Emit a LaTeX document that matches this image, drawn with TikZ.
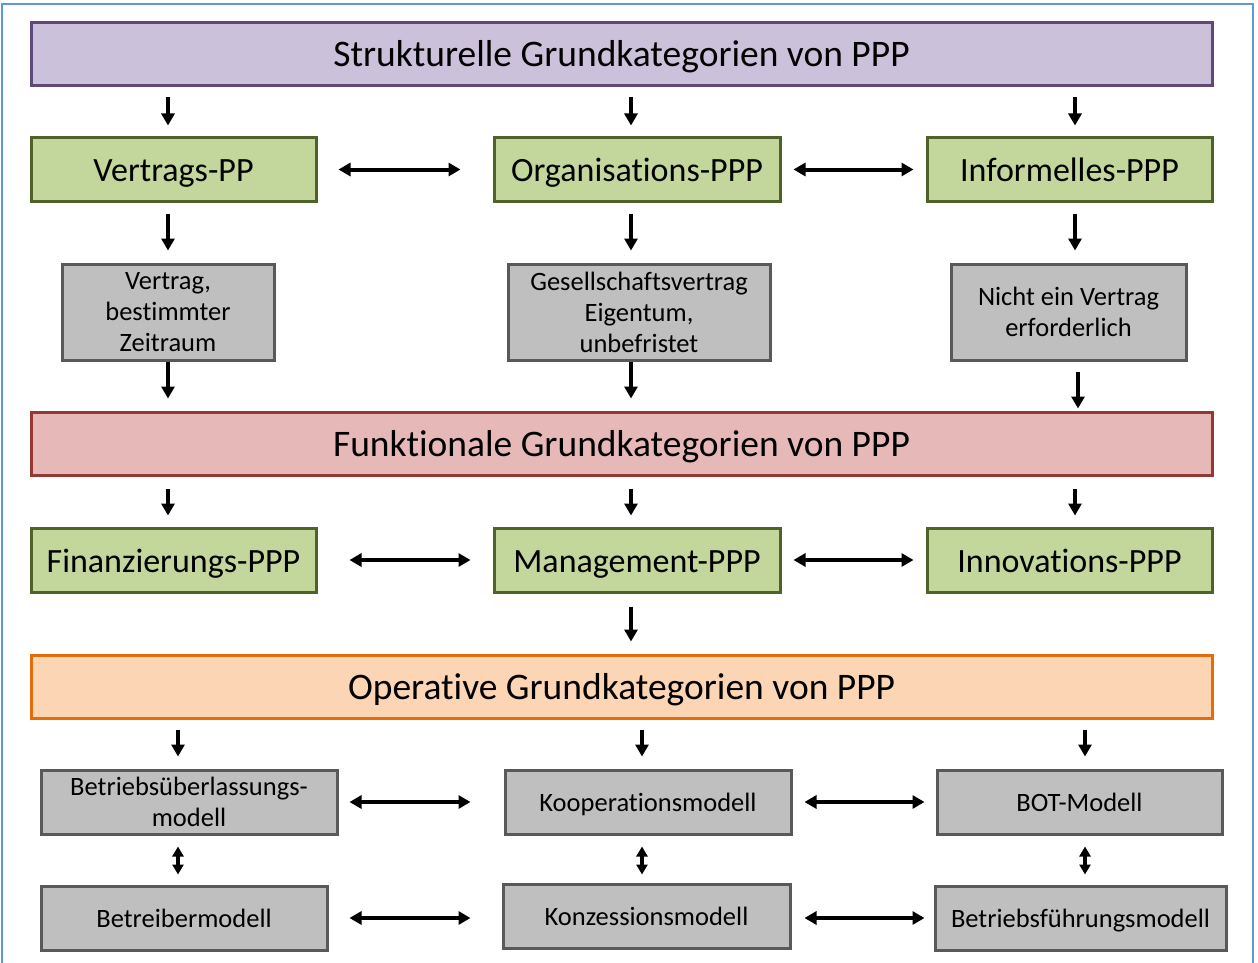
\documentclass[tikz,border=0pt]{standalone}
\usepackage{fontspec}
\setmainfont{Carlito}[Ligatures={NoCommon}]
\usetikzlibrary{arrows.meta}
\definecolor{purpF}{HTML}{CCC1DA}
\definecolor{purpD}{HTML}{5F497A}
\definecolor{grnF}{HTML}{C3D69B}
\definecolor{grnD}{HTML}{4F6228}
\definecolor{gryF}{HTML}{BFBFBF}
\definecolor{gryD}{HTML}{595959}
\definecolor{redF}{HTML}{E6B9B8}
\definecolor{redD}{HTML}{953735}
\definecolor{orF}{HTML}{FCD5B5}
\definecolor{orD}{HTML}{E46C0A}
\definecolor{frameB}{HTML}{5B9BD5}
\tikzset{
  box/.style={draw, line width=3pt, inner sep=0pt, align=center, anchor=center},
  titlebox/.style={box, text height=30pt, text depth=4pt, minimum width=1181pt, minimum height=63pt, font=\fontsize{37.5}{44}\selectfont},
  greenbox/.style={box, text height=28.5pt, text depth=4pt, fill=grnF, draw=grnD, minimum width=285pt, minimum height=63pt, font=\fontsize{34}{40}\selectfont},
  greybox/.style={box, fill=gryF, draw=gryD, font=\fontsize{26.5}{31}\selectfont},
  greyone/.style={greybox, text height=22.5pt, text depth=3pt},
  arr/.style={line width=4pt, -{Triangle[length=12pt,width=13pt]}},
  darr/.style={line width=4pt, {Triangle[length=12pt,width=13pt]}-{Triangle[length=12pt,width=13pt]}},
  vdarr/.style={line width=3.5pt, {Triangle[length=10pt,width=11pt]}-{Triangle[length=10pt,width=11pt]}},
}
\begin{document}
\begin{tikzpicture}[x=1pt,y=-1pt]
\useasboundingbox (0,0) rectangle (1258,963);
\draw[frameB, line width=1.5pt] (2,975) -- (2,4) -- (1253,4) -- (1253,975);
% columns
\coordinate (c1) at (168,0);
\coordinate (c2) at (631,0);
\coordinate (c3) at (1075,0);
\coordinate (c3b) at (1078,0);
\coordinate (d1) at (178,0);
\coordinate (d2) at (642,0);
\coordinate (d3) at (1085,0);
\coordinate (r4) at (0,918);
% nodes
\node[titlebox, fill=purpF, draw=purpD] (t1) at (621.5,54) {Strukturelle Grundkategorien von PPP};
\node[greenbox] (v) at (173.5,169.5) {Vertrags-PP};
\node[greenbox, minimum width=286pt] (o) at (637,169.5) {Organisations-PPP};
\node[greenbox] (i) at (1069.5,169.5) {Informelles-PPP};
\node[greybox, minimum width=212pt, minimum height=96pt] (g1) at (168,312) {Vertrag,\\bestimmter\\Zeitraum};
\node[greybox, minimum width=262pt, minimum height=96pt] (g2) at (639,312) {Gesellschaftsvertrag\\Eigentum,\\unbefristet};
\node[greybox, minimum width=235pt, minimum height=96pt] (g3) at (1068.5,312) {Nicht ein Vertrag\\erforderlich};
\node[titlebox, fill=redF, draw=redD] (t2) at (621.5,443.5) {Funktionale Grundkategorien von PPP};
\node[greenbox, minimum height=64pt] (f) at (173.5,560) {Finanzierungs-PPP};
\node[greenbox, minimum width=286pt, minimum height=64pt] (m) at (637,560) {Management-PPP};
\node[greenbox, minimum height=64pt] (n) at (1069.5,560) {Innovations-PPP};
\node[titlebox, fill=orF, draw=orD] (t3) at (621.5,686.5) {Operative Grundkategorien von PPP};
\node[greybox, minimum width=296pt, minimum height=64pt] (b1) at (189,802) {Betriebsüberlassungs-\\modell};
\node[greyone, minimum width=286pt, minimum height=64pt] (k) at (648,802) {Kooperationsmodell};
\node[greyone, minimum width=285pt, minimum height=64pt] (bot) at (1079.5,802) {BOT-Modell};
\node[greyone, minimum width=286pt, minimum height=64pt] (b2) at (184,918) {Betreibermodell};
\node[greyone, minimum width=287pt, minimum height=64pt] (kz) at (646.5,916) {Konzessionsmodell};
\node[greyone, minimum width=291pt, minimum height=64pt] (bf) at (1080.5,918) {Betriebsführungsmodell};
% vertical arrows
\foreach \c/\b in {c1/v, c2/o, c3/i} {
  \draw[arr, shorten <=10pt, shorten >=11pt] (t1.south -| \c) -- (\b.north -| \c);
}
\draw[arr, shorten <=11pt, shorten >=12pt] (v.south -| c1) -- (g1.north -| c1);
\draw[arr, shorten <=11pt, shorten >=12pt] (o.south -| c2) -- (g2.north -| c2);
\draw[arr, shorten <=11pt, shorten >=12pt] (i.south -| c3) -- (g3.north -| c3);
\draw[arr, shorten >=12pt] (g1.south -| c1) -- (t2.north -| c1);
\draw[arr, shorten >=12pt] (g2.south -| c2) -- (t2.north -| c2);
\draw[arr, shorten <=10pt, shorten >=2pt] (g3.south -| c3b) -- (t2.north -| c3b);
\foreach \c/\b in {c1/f, c2/m, c3/n} {
  \draw[arr, shorten <=12pt, shorten >=11pt] (t2.south -| \c) -- (\b.north -| \c);
}
\draw[arr, shorten <=13pt, shorten >=12pt] (m.south -| c2) -- (t3.north -| c2);
\foreach \c/\b in {d1/b1, d2/k, d3/bot} {
  \draw[arr, shorten <=10pt, shorten >=12pt] (t3.south -| \c) -- (\b.north -| \c);
}
\draw[vdarr, shorten <=11pt, shorten >=10pt] (b1.south -| d1) -- (b2.north -| d1);
\draw[vdarr, shorten <=11pt, shorten >=8pt] (k.south -| d2) -- (kz.north -| d2);
\draw[vdarr, shorten <=11pt, shorten >=10pt] (bot.south -| d3) -- (bf.north -| d3);
% horizontal double arrows
\draw[darr, shorten <=21pt, shorten >=32pt] (v.east) -- (o.west);
\draw[darr, shorten <=12pt, shorten >=12pt] (o.east) -- (i.west);
\draw[darr, shorten <=32pt, shorten >=22pt] (f.east) -- (m.west);
\draw[darr, shorten <=12pt, shorten >=12pt] (m.east) -- (n.west);
\draw[darr, shorten <=11pt, shorten >=33pt] (b1.east) -- (k.west);
\draw[darr, shorten <=12pt, shorten >=11pt] (k.east) -- (bot.west);
\draw[darr, shorten <=21pt, shorten >=31pt] (b2.east) -- (kz.west |- r4);
\draw[darr, shorten <=13pt, shorten >=9pt] (kz.east |- r4) -- (bf.west);
\end{tikzpicture}
\end{document}
